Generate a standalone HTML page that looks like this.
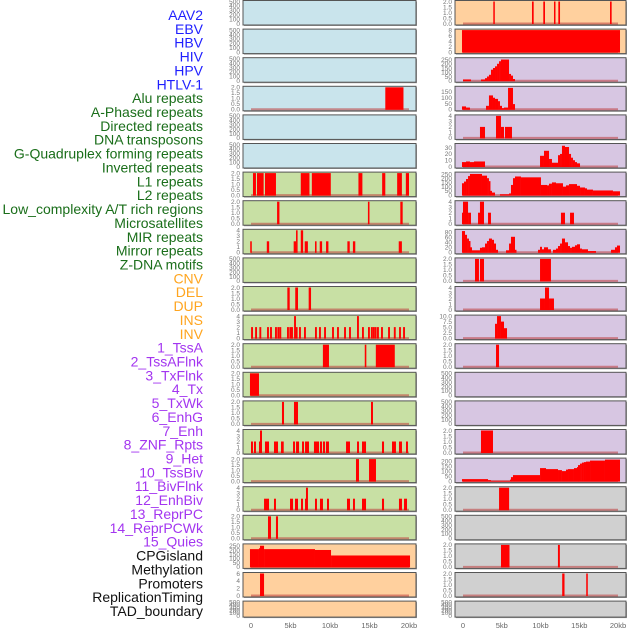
<!DOCTYPE html>
<html><head><meta charset="utf-8"><style>
html,body{margin:0;padding:0;background:#fff;}
svg{display:block;font-family:"Liberation Sans",sans-serif;}
</style></head><body>
<svg id="chart" width="630" height="630" viewBox="0 0 630 630" xmlns="http://www.w3.org/2000/svg">
<g id="labels"></g>
<g id="panels"></g>
<g id="xaxis"></g>
</svg>
<script>
const labelNames = ["AAV2","EBV","HBV","HIV","HPV","HTLV-1","Alu repeats","A-Phased repeats","Directed repeats","DNA transposons","G-Quadruplex forming repeats","Inverted repeats","L1 repeats","L2 repeats","Low_complexity A/T rich regions","Microsatellites","MIR repeats","Mirror repeats","Z-DNA motifs","CNV","DEL","DUP","INS","INV","1_TssA","2_TssAFlnk","3_TxFlnk","4_Tx","5_TxWk","6_EnhG","7_Enh","8_ZNF_Rpts","9_Het","10_TssBiv","11_BivFlnk","12_EnhBiv","13_ReprPC","14_ReprPCWk","15_Quies","CPGisland","Methylation","Promoters","ReplicationTiming","TAD_boundary"];
const labelGroups = ["virus","virus","virus","virus","virus","virus","repeat","repeat","repeat","repeat","repeat","repeat","repeat","repeat","repeat","repeat","repeat","repeat","repeat","sv","sv","sv","sv","sv","chrom","chrom","chrom","chrom","chrom","chrom","chrom","chrom","chrom","chrom","chrom","chrom","chrom","chrom","chrom","other","other","other","other","other"];
const groupColors = {virus:"#1f1fff",repeat:"#1a6e1a",sv:"#ffa51f",chrom:"#a335f0",other:"#111"};

const xTickValues = [0,5,10,15,20];
const xTickLabels = ["0","5kb","10kb","15kb","20kb"];

const T500 = ["0","100","200","300","400","500"];
const T2 = ["0.0","0.5","1.0","1.5","2.0"];
const T4 = ["0","1","2","3","4"];

const leftFill = ["#c9e4ec","#c9e4ec","#c9e4ec","#c9e4ec","#c9e4ec","#c9e4ec","#c8e0a4","#c8e0a4","#c8e0a4","#c8e0a4","#c8e0a4","#c8e0a4","#c8e0a4","#c8e0a4","#c8e0a4","#c8e0a4","#c8e0a4","#c8e0a4","#c8e0a4","#ffd09e","#ffd09e","#ffd09e"];
const rightFill = ["#ffd09e","#ffd09e","#d7c6e2","#d7c6e2","#d7c6e2","#d7c6e2","#d7c6e2","#d7c6e2","#d7c6e2","#d7c6e2","#d7c6e2","#d7c6e2","#d7c6e2","#d7c6e2","#d7c6e2","#d7c6e2","#d7c6e2","#d0d0d0","#d0d0d0","#d0d0d0","#d0d0d0","#d0d0d0"];

const leftYMax = [500,500,500,2,500,500,2,2,4,500,2,4,2,2,2,4,2,4,2,260,6,500];
const leftTickVals = [
 [0,100,200,300,400,500],[0,100,200,300,400,500],[0,100,200,300,400,500],[0,0.5,1,1.5,2],[0,100,200,300,400,500],[0,100,200,300,400,500],
 [0,0.5,1,1.5,2],[0,0.5,1,1.5,2],[0,1,2,3,4],[0,100,200,300,400,500],[0,0.5,1,1.5,2],[0,1,2,3,4],[0,0.5,1,1.5,2],[0,0.5,1,1.5,2],[0,0.5,1,1.5,2],[0,1,2,3,4],[0,0.5,1,1.5,2],[0,1,2,3,4],[0,0.5,1,1.5,2],
 [0,50,100,150,200,250],[0,2,4,6],[0,100,200,300,400,500]];
const leftTickLabels = [T500,T500,T500,T2,T500,T500,T2,T2,T4,T500,T2,T4,T2,T2,T2,T4,T2,T4,T2,["0","50","100","150","200","250"],["0","2","4","6"],T500];
const leftSegs = [
 [],[],[],
 [[17.0,19.3,2]],
 [],[],
 [[0.25,0.63,2],[0.76,1.6,2],[1.77,3.16,2],[6.3,7.4,2],[7.7,10.1,2],[13.6,14.1,2],[16.6,17.0,2],[18.5,19.1,2],[19.6,20.0,2]],
 [[3.3,3.6,2],[14.8,15.0,2],[18.9,19.2,2]],
 [[-0.1,0.1,2],[2.0,2.3,2],[5.4,5.7,2],[5.7,5.9,4],[6.3,6.6,4],[6.8,7.2,2],[8.1,8.3,2],[8.7,9.0,2],[9.5,9.8,2],[12.2,12.5,2],[12.9,13.2,2],[18.7,19.1,2]],
 [],
 [[4.6,4.9,2],[5.6,5.95,2],[7.3,7.6,2]],
 [[0.01,0.25,2],[0.52,0.76,2],[1.06,1.3,2],[2.03,2.27,2],[2.41,2.65,2],[3.04,3.28,2],[3.34,3.58,2],[3.59,3.83,2],[4.56,4.8,2],[4.86,5.1,2],[5.07,5.31,2],[5.45,5.69,4],[5.66,5.9,2],[6.08,6.32,2],[6.71,6.95,2],[8.1,8.34,2],[8.61,8.85,2],[9.25,9.49,2],[10.26,10.5,2],[10.89,11.13,2],[11.78,12.02,2],[12.41,12.65,2],[13.42,13.66,4],[14.05,14.29,2],[14.81,15.05,2],[15.18,15.42,2],[15.42,15.66,2],[15.66,15.9,2],[15.95,16.19,2],[16.46,16.7,2],[17.35,17.59,2],[18.08,18.32,2],[18.74,18.98,2],[19.25,19.49,2]],
 [[9.1,9.87,2],[14.4,14.6,2],[15.8,18.2,2]],
 [[-0.13,1.01,2]],
 [[3.92,4.18,2],[5.44,5.95,2],[15.19,15.44,2]],
 [[0.0,0.25,2],[0.38,0.63,2],[1.01,1.14,2],[1.14,1.39,4],[1.77,2.28,2],[2.91,3.42,2],[3.8,4.14,2],[5.32,5.57,2],[5.7,6.08,2],[6.46,6.71,2],[6.84,7.34,2],[7.97,8.61,2],[8.73,8.99,2],[9.11,9.37,2],[9.49,9.87,2],[12.03,12.53,2],[13.42,13.67,2],[14.05,14.56,2],[16.58,16.84,2],[17.85,18.35,2],[18.73,19.11,2],[19.62,19.87,2]],
 [[13.29,13.67,2],[14.94,15.82,2]],
 [[1.65,2.28,2],[2.91,3.16,2],[4.94,5.32,2],[5.57,5.95,2],[6.33,6.58,2],[6.84,6.96,2],[6.96,7.21,4],[8.1,8.35,2],[8.73,9.11,2],[9.62,9.87,2],[12.15,12.53,2],[12.91,13.16,2],[14.05,14.56,2],[16.58,16.84,2],[18.73,19.11,2],[19.37,19.75,2]],
 [[2.15,2.53,2],[3.16,3.42,2]],
 [[-0.13,1.01,210],[1.01,1.14,220],[1.14,1.65,250],[1.65,8.1,210],[8.1,10.13,200],[10.13,20.13,135]],
 [[1.14,1.65,6]],
 []
];

const rightYMax = [2,8,260,190,4,35,260,4,88,2,4,10,2,500,500,2,220,2,500,2,2,500];
const rightTickVals = [
 [0,0.5,1,1.5,2],[0,2,4,6,8],[0,50,100,150,200,250],[0,50,100,150],[0,1,2,3,4],[0,10,20,30],[0,50,100,150,200,250],[0,1,2,3,4],[0,20,40,60,80],[0,0.5,1,1.5,2],[0,1,2,3,4],[0,2.5,5,7.5,10],[0,0.5,1,1.5,2],
 [0,100,200,300,400,500],[0,100,200,300,400,500],[0,0.5,1,1.5,2],[0,50,100,150,200],[0,0.5,1,1.5,2],[0,100,200,300,400,500],[0,0.5,1,1.5,2],[0,0.5,1,1.5,2],[0,100,200,300,400,500]];
const rightTickLabels = [T2,["0","2","4","6","8"],["0","50","100","150","200","250"],["0","50","100","150"],T4,["0","10","20","30"],["0","50","100","150","200","250"],T4,["0","20","40","60","80"],T2,T4,["0.0","2.5","5.0","7.5","10.0"],T2,T500,T500,T2,["0","50","100","150","200"],T2,T500,T2,T2,T500];
const rightSegs = [
 [[3.91,4.09,2],[8.9,9.12,2],[10.36,10.58,2],[11.74,11.91,2],[12.3,12.52,2],[18.97,19.18,2]],
 [[-0.13,20.26,8]],
 [[0,1.03,15],[2.32,2.84,15],[2.84,3.1,30],[3.1,3.35,50],[3.35,3.61,70],[3.61,3.87,130],[3.87,4.13,150],[4.13,4.39,170],[4.39,4.65,200],[4.65,4.9,230],[4.9,5.94,250],[5.94,6.19,80],[6.19,6.45,60],[6.45,6.71,20]],
 [[-0.13,0.39,25],[0.39,0.9,15],[2.97,3.35,30],[3.35,3.87,120],[3.87,4.13,100],[4.13,4.52,90],[4.52,4.77,70],[4.77,5.03,30],[5.03,5.29,10],[5.29,5.81,15],[5.81,6.45,185],[6.45,6.71,45]],
 [[2.19,2.84,2],[4.26,4.9,4],[4.9,5.29,2],[5.42,6.32,2]],
 [[-0.13,0.39,7],[0.39,0.9,8],[0.9,1.42,7],[1.42,2.84,8],[9.94,10.45,17],[10.45,11.1,25],[11.1,11.48,12],[11.48,12.26,6],[12.26,12.52,18],[12.52,12.77,20],[12.77,13.16,33],[13.16,13.68,31],[13.68,13.94,20],[13.94,14.19,14],[14.19,14.45,10],[14.45,14.71,7],[14.71,15.1,5]],
 [[-0.13,0.13,140],[0.13,0.39,160],[0.39,0.65,190],[0.65,0.9,225],[0.9,2.45,250],[2.45,3.1,230],[3.1,3.35,200],[3.35,3.48,165],[3.48,3.74,50],[3.74,4.13,30],[4.77,5.94,10],[5.94,6.19,20],[6.19,6.45,120],[6.45,6.71,200],[6.71,7.48,220],[7.48,10.06,210],[10.06,10.84,120],[10.84,11.1,115],[11.1,11.48,135],[11.48,12.0,150],[12.0,12.9,140],[12.9,13.29,100],[13.29,13.68,115],[13.68,14.71,130],[14.71,15.1,110],[15.1,15.74,90],[15.74,16.0,80],[16.0,16.77,65],[16.77,19.35,55],[19.35,20.26,45]],
 [[-0.13,0.0,2],[0.0,0.65,4],[0.65,1.03,2],[1.94,2.19,2],[2.19,2.71,4],[3.23,3.61,2],[12.64,13.16,2],[13.81,14.32,2]],
 [[-0.13,0.26,85],[0.26,0.52,70],[0.52,0.77,55],[0.77,0.9,45],[0.9,1.16,20],[1.16,2.19,8],[2.19,2.45,18],[2.45,2.84,20],[2.84,3.1,35],[3.1,3.35,45],[3.35,3.74,55],[3.74,4.0,50],[4.0,4.26,35],[4.26,4.52,10],[5.55,5.94,8],[5.94,6.19,35],[6.19,6.71,62],[6.71,6.84,10],[9.68,9.94,10],[9.94,10.19,22],[10.19,10.45,12],[10.45,10.97,20],[10.97,11.35,12],[11.61,12.0,10],[12.0,12.26,15],[12.26,12.52,25],[12.52,12.77,35],[12.77,13.16,55],[13.16,13.55,40],[13.55,13.81,25],[13.81,14.06,18],[14.06,14.45,22],[14.45,14.71,28],[14.71,15.1,32],[15.1,15.35,15],[15.35,16.13,12],[16.13,17.16,5],[19.1,19.61,10],[19.61,19.87,20],[19.87,20.26,27]],
 [[1.55,2.06,2],[2.19,2.71,2],[9.94,11.35,2]],
 [[9.94,10.58,2],[10.58,11.1,4],[11.1,11.74,2]],
 [[4.13,4.39,6.5],[4.39,4.9,10],[4.9,5.29,7.5],[5.29,5.68,4.5]],
 [[4.26,4.65,2]],
 [],[],
 [[2.32,3.87,2]],
 [[-0.13,3.23,20],[3.23,3.61,10],[3.61,6.06,3],[6.06,6.19,15],[6.19,6.45,40],[6.45,9.94,60],[9.94,10.71,130],[10.71,12.26,120],[12.26,12.77,110],[12.77,13.29,100],[13.29,13.55,115],[13.55,14.32,120],[14.32,14.71,130],[14.71,14.84,140],[14.84,15.1,160],[15.1,15.35,175],[15.35,15.61,185],[15.61,15.87,190],[15.87,16.39,195],[16.39,18.32,205],[18.32,20.26,215]],
 [[4.65,5.95,2]],
 [],
 [[4.9,6.0,2],[12.25,12.5,2]],
 [[12.8,13.1,2],[15.9,16.1,2]],
 []
];

const NS = "http://www.w3.org/2000/svg";
function mk(tag, attrs, parent){ const e=document.createElementNS(NS,tag); for(const k in attrs) e.setAttribute(k,attrs[k]); parent.appendChild(e); return e; }

// labels
const gL = document.getElementById('labels');
labelNames.forEach((name,i)=>{
  const t = mk('text',{x:203,y:(15+13.86*i+5).toFixed(1),'text-anchor':'end','font-size':'14',fill:groupColors[labelGroups[i]]},gL);
  
  
  t.textContent = name;
});

const cols = [
  {left:243, width:173, x0:251, pxPerKb:7.9, tickX:240, fills:leftFill, ymax:leftYMax, tv:leftTickVals, tl:leftTickLabels, segs:leftSegs, name:'left'},
  {left:455, width:171, x0:463, pxPerKb:7.75, tickX:452, fills:rightFill, ymax:rightYMax, tv:rightTickVals, tl:rightTickLabels, segs:rightSegs, name:'right'}
];
const gP = document.getElementById('panels');
cols.forEach((c,ci)=>{
  const xs = kb => c.x0 + kb*c.pxPerKb;
  for(let r=0;r<22;r++){
    const top = 0.5 + 28.6*r;
    const h = r===21 ? 16 : 24.5;
    const g = mk('g',{},gP);
    
    
    const clipId = 'clip'+ci+'_'+r;
    const cp = mk('clipPath',{id:clipId},g);
    mk('rect',{x:c.left,y:top,width:c.width,height:h},cp);
    mk('rect',{x:c.left+1,y:top+1,width:c.width,height:h,fill:'#9a9a9a'},g);
    const bg = mk('rect',{x:c.left,y:top,width:c.width,height:h,fill:c.fills[r],stroke:'#555','stroke-width':1},g);
    
    
    const zeroY = top + h - 1.5, topY = top + 1;
    const ys = v => zeroY - v / c.ymax[r] * (zeroY - topY);
    const gb = mk('g',{'clip-path':'url(#'+clipId+')'},g);
    const segs = c.segs[r];
    if(segs.length){
      const bl = mk('line',{x1:xs(0),x2:xs(20),y1:zeroY,y2:zeroY,stroke:'rgba(190,60,60,0.55)','stroke-width':2},gb);
      
      
    }
    segs.forEach(s=>{
      const x1 = xs(s[0]), x2 = xs(s[1]);
      const y = ys(s[2]);
      const rc = mk('rect',{x:x1.toFixed(2),y:y.toFixed(2),width:Math.max(1.5,x2-x1).toFixed(2),height:(zeroY-y+0.5).toFixed(2),fill:'#ff0000'},gb);
      
      
    });
    c.tv[r].forEach((v,k)=>{
      const tt = mk('text',{x:c.tickX,y:(ys(v)+2.3).toFixed(2),'text-anchor':'end','font-size':'6.5',fill:'#777'},g);
      
      
      tt.textContent = c.tl[r][k];
    });
  }
  const gx = document.getElementById('xaxis');
  xTickValues.forEach((v,k)=>{
    const t = mk('text',{x:xs(v).toFixed(1),y:628,'text-anchor':'middle','font-size':'7.5',fill:'#666'},gx);
    
    
    t.textContent = xTickLabels[k];
  });
});
</script>
</body></html>
